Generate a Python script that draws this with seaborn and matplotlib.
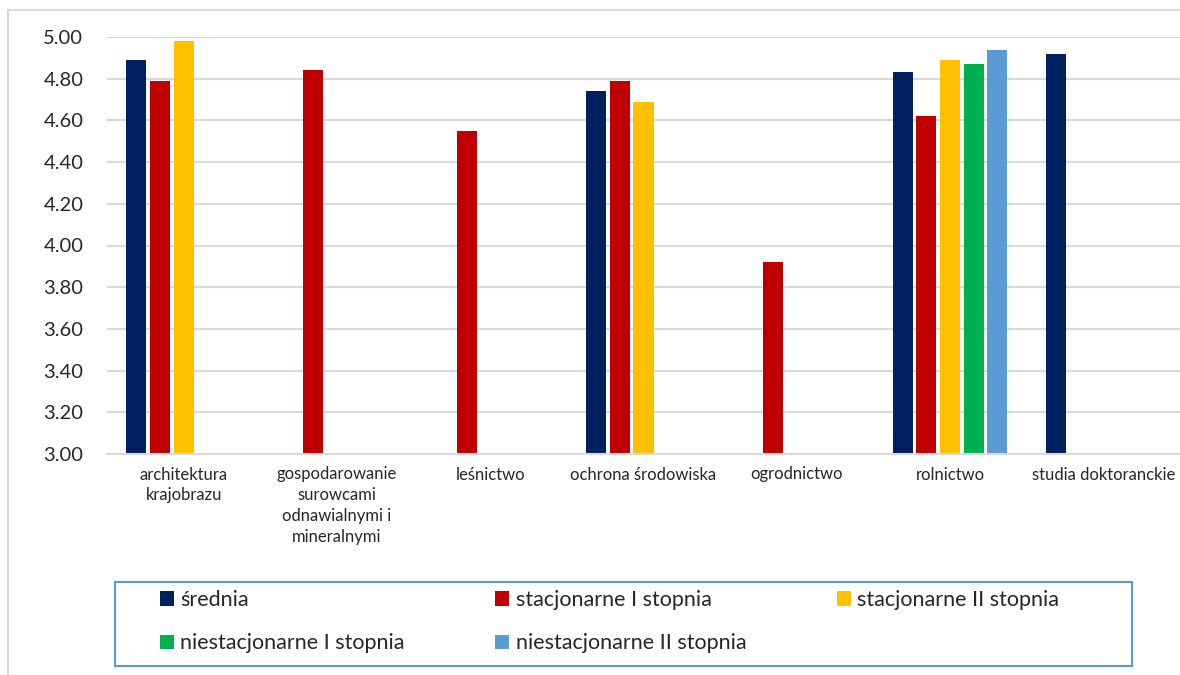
import numpy as np
import pandas as pd
import matplotlib
matplotlib.use("Agg")
import matplotlib.pyplot as plt
from matplotlib.patches import Rectangle
import seaborn as sns

categories = ["architektura\nkrajobrazu",
              "gospodarowanie\nsurowcami\nodnawialnymi i\nmineralnymi",
              "leśnictwo",
              "ochrona środowiska",
              "ogrodnictwo",
              "rolnictwo",
              "studia doktoranckie"]
series = ["średnia", "stacjonarne I stopnia", "stacjonarne II stopnia",
          "niestacjonarne I stopnia", "niestacjonarne II stopnia"]
srednia = [4.89, None, None, 4.74, None, 4.83, 4.92]
stac_1 = [4.79, 4.84, 4.55, 4.79, 3.92, 4.62, None]
stac_2 = [4.98, None, None, 4.69, None, 4.89, None]
niestac_1 = [None, None, None, None, None, 4.87, None]
niestac_2 = [None, None, None, None, None, 4.94, None]
colors = ["#002060", "#C00000", "#FFC000", "#00B050", "#5B9BD5"]

rows = []
for name, vals in zip(series, [srednia, stac_1, stac_2, niestac_1, niestac_2]):
    for cat, v in zip(categories, vals):
        if v is not None:
            rows.append({"kierunek": cat, "grupa": name, "ocena": v})
df = pd.DataFrame(rows)

sns.set_theme(style="white")
plt.rcParams['font.family'] = ['Lato', 'DejaVu Sans']

W, H = 1180, 675
fig = plt.figure(figsize=(W/100, H/100), dpi=100)
ax = fig.add_axes([107/W, 1-454/H, 1073/W, (454-37)/H])

sns.barplot(data=df, x="kierunek", y="ocena", hue="grupa",
            order=categories, hue_order=series, palette=colors,
            width=0.77, gap=0.15, dodge=True, ax=ax, legend=True,
            saturation=1, linewidth=0, errorbar=None)

ax.set_ylim(3.0, 5.0)
ticks = np.arange(3.0, 5.01, 0.2)
ax.set_yticks(ticks)
ax.set_yticklabels([f"{t:.2f}" for t in ticks], fontsize=14.5)
ax.tick_params(axis="y", length=0, pad=17)
ax.tick_params(axis="x", length=0, pad=9)
for lab in ax.get_xticklabels():
    lab.set_fontsize(12)
    lab.set_linespacing(1.38)
ax.set_xlabel("")
ax.set_ylabel("")
ax.grid(axis="y", color="#D9D9D9", linewidth=1.5)
ax.set_axisbelow(True)
for s in ["top", "right", "left"]:
    ax.spines[s].set_visible(False)
ax.spines["bottom"].set_color("#D9D9D9")
ax.spines["bottom"].set_linewidth(1.5)

handles, labels = ax.get_legend_handles_labels()
ax.get_legend().remove()
order = [0, 3, 1, 4, 2]
leg = fig.legend([handles[i] for i in order], [labels[i] for i in order],
                 ncol=3, loc="upper left",
                 bbox_to_anchor=(160/W, 1-590/H),
                 fontsize=15.5, frameon=False,
                 handlelength=0.65, handleheight=0.65, handletextpad=0.3,
                 columnspacing=4.2, borderpad=0, labelspacing=1.08,
                 borderaxespad=0)

fig.patches.append(Rectangle((115/W, 1-666/H), (1132-115)/W, (666-582)/H,
                             transform=fig.transFigure, fill=False,
                             edgecolor="#5B9BD5", linewidth=1.5))
fig.patches.append(Rectangle((8/W, -0.05), 1.2, 1-10/H+0.05,
                             transform=fig.transFigure, fill=False,
                             edgecolor="#D9D9D9", linewidth=1.5))

fig.savefig("out.png", dpi=100)
